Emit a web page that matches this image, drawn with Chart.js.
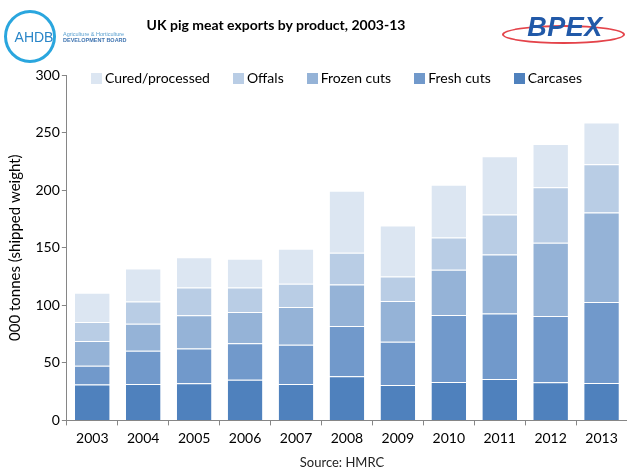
<!DOCTYPE html>
<html>
<head>
<meta charset="utf-8">
<script src="https://cdn.jsdelivr.net/npm/chart.js@4.4.1/dist/chart.umd.min.js"></script>
<style>
  body { margin: 0; background: #fff; }
  #wrap { position: relative; width: 627px; height: 470px; overflow: hidden; font-family: Lato, sans-serif; }
  #pigChart { position: absolute; left: 0; top: 0; }
  .title {
    position: absolute; left: 0; top: 16px; width: 552px; text-align: center;
    font: bold 14px Lato, sans-serif; color: #000; line-height: 18px;
  }
  .source {
    position: absolute; left: 242px; top: 453px; width: 200px; text-align: center;
    font: 13px Lato, sans-serif; color: #222; line-height: 18px;
  }
  #legend {
    position: absolute; left: 91px; top: 69px; display: flex; align-items: center;
    font: 14px Lato, sans-serif; color: #000; line-height: 18px; white-space: nowrap;
  }
  #legend .item { display: flex; align-items: center; margin-right: 23px; }
  #legend .box { width: 11px; height: 11px; margin-right: 3px; }
  .ahdb-ring {
    position: absolute; left: 4px; top: 10px; width: 52px; height: 53px;
    border-radius: 50%; border: 3px solid #2aa6de; box-sizing: border-box;
  }
  .ahdb-text {
    position: absolute; left: 8px; top: 30px; width: 52px; text-align: center;
    font: 14px 'Liberation Sans', sans-serif; color: #2a86c8; line-height: 14px;
  }
  .ahdb-board {
    position: absolute; left: 63px; top: 31px; font: 5.5px 'Liberation Sans', sans-serif;
    color: #5aa0d0; line-height: 6px; white-space: nowrap;
  }
  .ahdb-board b { color: #3f74b0; }
  .bpex-ring {
    position: absolute; left: 502px; top: 25px; width: 123px; height: 19px;
    border-radius: 50%; border: 2.5px solid #e4434a; box-sizing: border-box;
  }
  .bpex-text {
    position: absolute; left: 522px; top: 14px; width: 86px; text-align: center;
    font: italic bold 27px 'Liberation Sans', sans-serif; color: #2159a8;
    line-height: 27px; letter-spacing: 0.5px;
  }
</style>
</head>
<body>
<div id="wrap">
  <canvas id="pigChart" width="627" height="470"></canvas>
  <div class="title">UK pig meat exports by product, 2003-13</div>
  <div id="legend"></div>
  <div class="source">Source: HMRC</div>
  <div class="ahdb-ring"></div>
  <div class="ahdb-text">AHDB</div>
  <div class="ahdb-board">Agriculture &amp; Horticulture<br><b>DEVELOPMENT BOARD</b></div>
  <div class="bpex-ring"></div>
  <div class="bpex-text">BPEX</div>
</div>
<script>
let years = ['2003', '2004', '2005', '2006', '2007', '2008', '2009', '2010', '2011', '2012', '2013'];

// thousand tonnes, shipped weight
let carcases   = [31.1, 31.7, 32.3, 35.2, 31.7, 38.4, 30.8, 33.4, 36.0, 33.1, 32.5];
let freshCuts  = [16.3, 28.8, 30.2, 31.9, 34.0, 43.5, 37.5, 58.2, 56.8, 57.6, 70.4];
let frozenCuts = [21.5, 23.5, 28.8, 27.1, 32.8, 36.1, 35.5, 39.2, 51.4, 63.7, 77.6];
let offals     = [16.5, 19.2, 24.1, 21.2, 20.1, 27.6, 21.2, 28.1, 34.6, 48.2, 41.9];
let cured      = [25.4, 28.8, 26.2, 25.0, 30.5, 53.8, 44.2, 45.7, 50.6, 37.5, 36.3];

let yTicks = [0, 50, 100, 150, 200, 250, 300];

let fontFamily = 'Lato, sans-serif';
let axisGrey = '#868686';

function series(label, data, color) {
    return {
        label: label,
        data: data,
        backgroundColor: color,
        borderColor: 'rgba(255,255,255,0.6)',
        borderWidth: { top: 1 },
        borderSkipped: false
    };
}

let ctx = document.getElementById('pigChart').getContext('2d');
let pigChart = new Chart(ctx, {
    type: 'bar',
    data: {
        labels: years,
        datasets: [
            series('Carcases', carcases, '#4f81bd'),
            series('Fresh cuts', freshCuts, '#7199cb'),
            series('Frozen cuts', frozenCuts, '#95b3d7'),
            series('Offals', offals, '#b9cde5'),
            series('Cured/processed', cured, '#dce6f2')
        ]
    },
    options: {
        responsive: false,
        animation: false,
        layout: { padding: { left: 0, right: 0, top: 75, bottom: 18.6 } },
        datasets: { bar: { categoryPercentage: 1, barPercentage: 0.68 } },
        plugins: {
            legend: { display: false },
            tooltip: { enabled: false }
        },
        scales: {
            x: {
                stacked: true,
                grid: { display: true, drawOnChartArea: false, drawTicks: true, tickLength: 5, color: axisGrey, offset: true },
                border: { color: axisGrey },
                ticks: { color: '#000', font: { family: fontFamily, size: 14 }, padding: 4.6, maxRotation: 0 }
            },
            y: {
                stacked: true,
                min: 0,
                max: 300,
                afterBuildTicks(axis) {
                    axis.ticks = yTicks.map(v => ({ value: v }));
                },
                grid: { display: true, drawOnChartArea: false, drawTicks: true, tickLength: 5, color: axisGrey },
                border: { color: axisGrey },
                ticks: { color: '#000', font: { family: fontFamily, size: 14 }, padding: 2 },
                title: {
                    display: true,
                    text: '000 tonnes (shipped weight)',
                    color: '#000',
                    font: { family: fontFamily, size: 15 },
                    padding: { top: 6, bottom: 9.5 }
                }
            }
        }
    }
});

// legend row, top series first
let legendEl = document.getElementById('legend');
pigChart.data.datasets.slice().reverse().forEach(ds => {
    let item = document.createElement('div');
    item.className = 'item';
    let box = document.createElement('span');
    box.className = 'box';
    box.style.background = ds.backgroundColor;
    let txt = document.createElement('span');
    txt.textContent = ds.label;
    item.appendChild(box);
    item.appendChild(txt);
    legendEl.appendChild(item);
});
</script>
</body>
</html>
